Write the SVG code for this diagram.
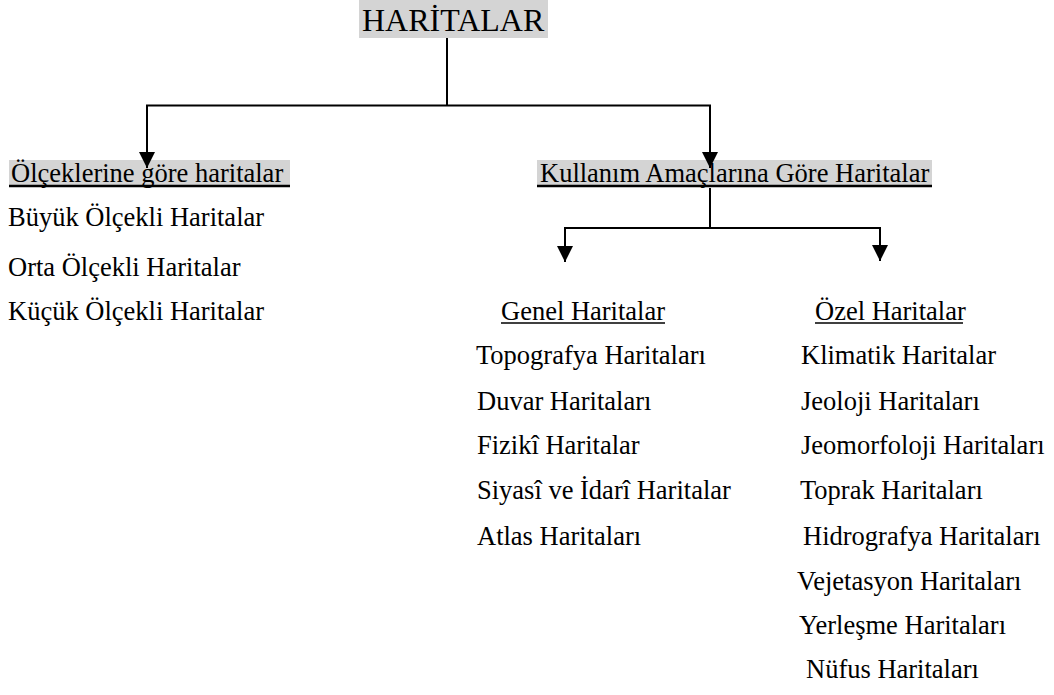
<svg xmlns="http://www.w3.org/2000/svg" width="1054" height="695" viewBox="0 0 1054 695">
<style>
text{font-family:"Liberation Serif","Times New Roman","DejaVu Serif",serif;font-size:26.5px;fill:#000}
.title{font-size:32px}
.hl{fill:#d4d4d4}
.ln{stroke:#000;stroke-width:2;fill:none}
.ul{stroke:#000;stroke-width:1.5}
.ulb{stroke:#000;stroke-width:2.5}
</style>
<defs>
<marker id="ah" viewBox="0 0 16 16" refX="16" refY="8" markerWidth="16" markerHeight="16" markerUnits="userSpaceOnUse" orient="auto">
<path d="M0,0 L16,8 L0,16 Z" fill="#000"/>
</marker>
</defs>
<rect width="1054" height="695" fill="#fff"/>
<g id="n-haritalar">
<rect class="hl" x="359" y="0" width="189" height="38"/>
<text class="title" x="362" y="31">HARİTALAR</text>
</g>
<g id="n-olcek">
<rect class="hl" x="9" y="160" width="281" height="27"/>
<text x="11" y="182"> Ölçeklerine göre haritalar</text>
<line class="ulb" x1="9" y1="186" x2="290" y2="186"/>
</g>
<g id="n-olcek-list">
<text x="8" y="226">Büyük Ölçekli Haritalar</text>
<text x="8" y="276">Orta Ölçekli Haritalar</text>
<text x="8" y="320">Küçük Ölçekli Haritalar</text>
</g>
<g id="n-kullanim">
<rect class="hl" x="537" y="160" width="395" height="27"/>
<text x="540" y="182">Kullanım Amaçlarına Göre Haritalar</text>
<line class="ulb" x1="537" y1="186" x2="932" y2="186"/>
</g>
<g id="n-genel">
<text x="501" y="320">Genel Haritalar</text>
<line class="ul" x1="501" y1="323" x2="665" y2="323"/>
</g>
<g id="n-genel-list">
<text x="476" y="364">Topografya Haritaları</text>
<text x="477" y="410">Duvar Haritaları</text>
<text x="477" y="454">Fizikî Haritalar</text>
<text x="477" y="499">Siyasî ve İdarî Haritalar</text>
<text x="477" y="545">Atlas Haritaları</text>
</g>
<g id="n-ozel">
<text x="815" y="320">Özel Haritalar</text>
<line class="ul" x1="815" y1="323" x2="963" y2="323"/>
</g>
<g id="n-ozel-list">
<text x="801" y="364">Klimatik Haritalar</text>
<text x="801" y="410">Jeoloji Haritaları</text>
<text x="801" y="454">Jeomorfoloji Haritaları</text>
<text x="800" y="499">Toprak Haritaları</text>
<text x="803" y="545">Hidrografya Haritaları</text>
<text x="797" y="590">Vejetasyon Haritaları</text>
<text x="799" y="634">Yerleşme Haritaları</text>
<text x="806" y="678">Nüfus Haritaları</text>
</g>
<g id="connectors">
<polyline class="ln" points="447,38 447,105.5"/>
<polyline class="ln" points="447,105.5 147,105.5 147,168" marker-end="url(#ah)"/>
<polyline class="ln" points="447,105.5 710,105.5 710,168" marker-end="url(#ah)"/>
<polyline class="ln" points="710,188 710,228"/>
<polyline class="ln" points="710,228 565,228 565,262" marker-end="url(#ah)"/>
<polyline class="ln" points="710,228 880,228 880,261" marker-end="url(#ah)"/>
</g>
</svg>
